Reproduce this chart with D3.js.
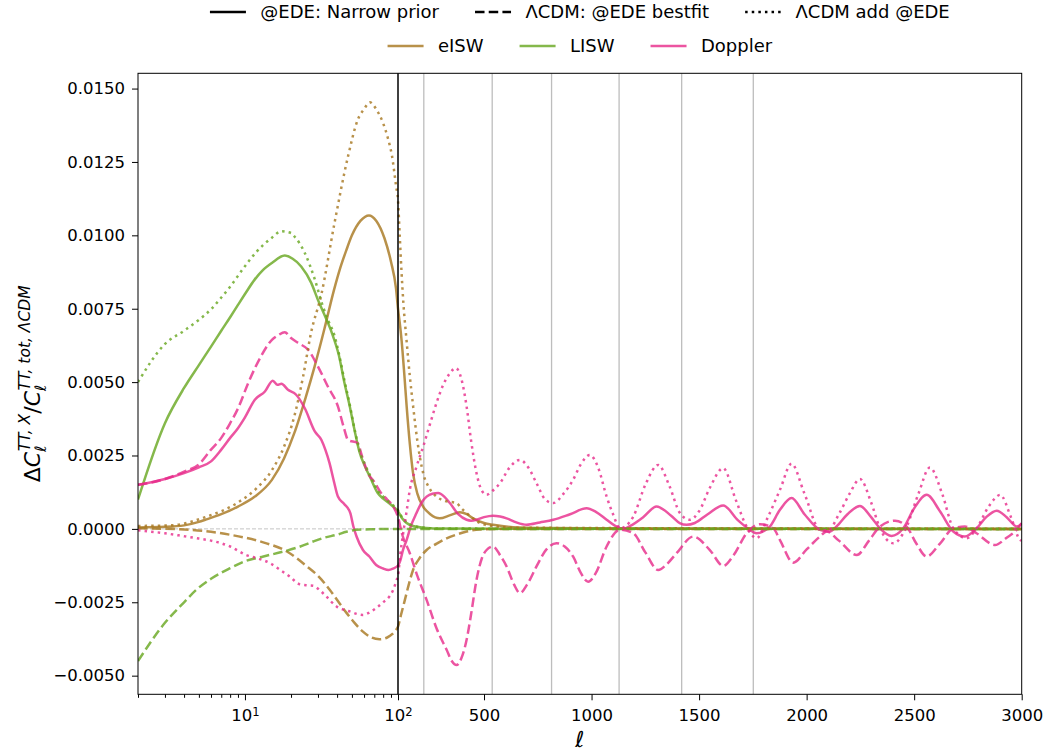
<!DOCTYPE html>
<html>
<head>
<meta charset="utf-8">
<script src="https://cdn.jsdelivr.net/npm/d3@7"></script>
<style>
  body { margin: 0; background: #fff; }
  svg text { font-family: "DejaVu Sans", sans-serif; }
</style>
</head>
<body>
<div id="chart"></div>
<script>
// ---- data (ell, value) ----
const eiswNarrow = [[2,0.00005],[3,0.00007],[4,0.00012],[5,0.00024],[5.5,0.00031],[7,0.0005],[9,0.00076],[11.6,0.0011],[15,0.00167],[18,0.0024],[21,0.00326],[25,0.0045],[28.5,0.00553],[33,0.0068],[38,0.0081],[42,0.0089],[46,0.0095],[50,0.0100],[57,0.0105],[64.6,0.01068],[72,0.0105],[81.6,0.0099],[90,0.0091],[97,0.0082],[100,0.0075],[110,0.0069],[117,0.0064],[130,0.0052],[140,0.0042],[155,0.0029],[170,0.0019],[190,0.0012],[217,0.00076],[250,0.0005],[294,0.00036],[340,0.00046],[387,0.00057],[420,0.0005],[449,0.00036],[500,0.0002],[542,0.00014],[635,0.00006],[800,0.00003],[1200,0.00001],[3000,0]];
const eiswBestfit = [[2,0.00002],[4,-0.00002],[6,-0.0001],[8,-0.0002],[13,-0.00045],[18.8,-0.00077],[25.4,-0.00128],[30,-0.0016],[35.9,-0.00208],[41,-0.0025],[46.2,-0.00287],[52,-0.0032],[59,-0.0035],[67,-0.0037],[75.7,-0.00376],[85,-0.0037],[92,-0.00358],[97,-0.00344],[100,-0.00333],[115,-0.0029],[132,-0.00242],[150,-0.0019],[170,-0.0014],[200,-0.001],[233,-0.00072],[280,-0.0005],[326,-0.00032],[370,-0.0002],[419,-0.00009],[480,-0.00002],[600,0],[3000,0]];
const eiswAdd = [[2,0.0001],[3.3,0.00012],[5.5,0.0004],[9,0.0009],[12,0.0014],[15,0.002],[18,0.0028],[21,0.00383],[24,0.0052],[27,0.00667],[31.6,0.008],[38.4,0.0104],[47.2,0.0127],[54.6,0.01394],[60,0.0143],[65.5,0.01453],[72,0.0143],[79.8,0.01383],[86,0.0133],[91.4,0.0127],[97.2,0.01167],[100,0.0112],[108,0.01],[116,0.0088],[125,0.0077],[140,0.0064],[155,0.0052],[170,0.0042],[190,0.003],[217,0.0019],[245,0.0014],[279,0.0011],[320,0.00095],[372,0.00088],[395,0.0007],[419,0.00054],[450,0.00035],[480,0.0002],[540,0.0001],[650,0.00004],[3000,0]];

const liswNarrow = [[2,0.001],[3,0.0036],[4,0.0048],[5,0.00558],[6,0.00621],[7,0.00675],[8,0.00721],[9,0.00763],[10,0.008],[11.6,0.0085],[13,0.0088],[15,0.00906],[18.2,0.00931],[20.5,0.0092],[23.3,0.00894],[27.1,0.00838],[30,0.0078],[33,0.0073],[37,0.00667],[41,0.00593],[44.7,0.00497],[48,0.00426],[52.5,0.00326],[56,0.00262],[61,0.00212],[66,0.00174],[73.7,0.00122],[80,0.00103],[90,0.00082],[100,0.0006],[120,0.00035],[140,0.0002],[170,0.0001],[233,0.00003],[300,0.00001],[3000,0]];
const liswBestfit = [[2,-0.0045],[3,-0.0032],[4,-0.0025],[4.8,-0.00208],[6,-0.0017],[8,-0.00134],[10,-0.0011],[13.2,-0.00094],[18.8,-0.00074],[23,-0.0006],[27.9,-0.00043],[33,-0.0003],[39.9,-0.0002],[46,-0.0001],[53.6,-0.00003],[70,-0.00001],[100,0],[3000,0]];
const liswAdd = [[2,0.005],[3,0.0063],[4,0.00675],[5,0.00712],[6,0.00748],[7,0.00788],[8,0.00825],[10,0.00895],[12,0.00946],[15,0.00992],[17.3,0.01014],[20,0.01008],[21,0.00997],[24.6,0.0094],[28.6,0.0085],[32.3,0.00758],[35,0.0071],[38.4,0.0066],[41,0.006],[44.7,0.00505],[48,0.00432],[52.5,0.0033],[56,0.00268],[61,0.00218],[66,0.0018],[73.7,0.0013],[80,0.0011],[90,0.00086],[100,0.00064],[120,0.00038],[140,0.00022],[170,0.00011],[233,0.00003],[300,0.00001],[3000,0]];

const dopplerNarrow = [[2,0.0015],[3,0.0017],[4,0.0019],[5,0.0021],[6,0.0023],[7,0.0027],[8,0.0031],[9,0.00343],[10,0.0038],[11.6,0.0044],[13.5,0.00468],[15.2,0.00505],[16.3,0.00491],[17.3,0.00494],[19.1,0.00474],[21.6,0.00457],[24.6,0.00411],[28.6,0.00332],[31.6,0.00303],[33.5,0.0027],[35.7,0.00224],[38,0.00165],[40.5,0.0011],[44.5,0.00085],[48.8,0.00054],[51,0.0001],[53.6,-0.00026],[59,-0.00072],[65,-0.00094],[72,-0.00123],[80,-0.00135],[86.7,-0.0014],[93,-0.00135],[100,-0.00125],[110,-0.0011],[124,-0.0007],[140,-0.00038],[160,0.0001],[186,0.00054],[210,0.0009],[233,0.0011],[260,0.0012],[287,0.00122],[315,0.0011],[341,0.00088],[380,0.0005],[419,0.00031],[440,0.00028],[465,0.00031],[500,0.0004],[542,0.00045],[575,0.00042],[605,0.00036],[650,0.00022],[698,0.00014],[760,0.00022],[822,0.00031],[900,0.0005],[977,0.0007],[1020,0.00058],[1070,0.00031],[1110,0.0001],[1147,0],[1180,0.0001],[1240,0.0004],[1302,0.00076],[1370,0.00045],[1410,0.0002],[1442,0.00014],[1480,0.0002],[1540,0.0005],[1612,0.0008],[1680,0.0003],[1736,-0.00003],[1767,-0.00015],[1800,-0.00008],[1829,0.00008],[1876,0.00065],[1930,0.00105],[1990,0.0005],[2062,-0.00003],[2108,-0.00009],[2139,0.00008],[2190,0.0005],[2248,0.00078],[2300,0.0004],[2341,0.00002],[2395,-0.00024],[2449,0.00002],[2500,0.0007],[2558,0.00116],[2620,0.0006],[2682,-0.00009],[2736,-0.00026],[2790,0.00002],[2835,0.0004],[2884,0.00062],[2930,0.0004],[2977,0.00008],[3000,0.00018]];
const dopplerBestfit = [[2,0.0015],[3,0.0017],[4,0.00195],[5,0.0022],[6,0.0027],[7,0.0031],[8,0.0036],[9,0.0041],[10.5,0.00497],[12.7,0.00587],[15,0.00644],[16.5,0.0066],[18.2,0.0067],[20,0.0065],[22.3,0.00633],[25.9,0.0061],[30,0.00553],[34.8,0.00485],[40.5,0.00417],[44,0.0035],[47.2,0.00303],[54.6,0.00292],[58,0.0025],[63.6,0.0019],[70,0.0016],[77.5,0.00122],[85,0.001],[92,0.0008],[100,0.0004],[120,-0.0002],[155,-0.00083],[190,-0.0016],[233,-0.00242],[280,-0.0034],[326,-0.00412],[350,-0.0045],[372,-0.00464],[395,-0.0044],[419,-0.00378],[440,-0.0029],[465,-0.00174],[490,-0.001],[512,-0.00072],[542,-0.0006],[575,-0.0009],[605,-0.00128],[640,-0.0019],[667,-0.00219],[700,-0.0019],[744,-0.00128],[790,-0.0007],[837,-0.00049],[875,-0.0006],[914,-0.00094],[950,-0.0015],[984,-0.0018],[1020,-0.0015],[1070,-0.0006],[1132,-0.00003],[1194,-0.00015],[1250,-0.0008],[1310,-0.0014],[1350,-0.0012],[1395,-0.00083],[1473,-0.00026],[1550,-0.00072],[1612,-0.00126],[1660,-0.0009],[1721,-0.00015],[1783,0.00016],[1845,0.00002],[1876,-0.00038],[1938,-0.00115],[2000,-0.0007],[2062,-0.00026],[2093,-0.00009],[2150,-0.0004],[2233,-0.00089],[2290,-0.0004],[2341,0.00008],[2411,0.00028],[2465,0.00008],[2510,-0.0005],[2558,-0.00094],[2620,-0.0005],[2682,0.00002],[2736,0.00008],[2790,-0.00015],[2876,-0.00055],[2930,-0.0003],[2977,-0.00003],[3000,0.0002]];
const dopplerAdd = [[2,-0.00005],[3,-0.00015],[4,-0.00025],[5,-0.00033],[6,-0.0004],[8,-0.0006],[10.2,-0.00089],[12,-0.001],[14.6,-0.00117],[17,-0.0014],[19.7,-0.00163],[22.6,-0.00188],[25,-0.00192],[27.9,-0.00194],[31,-0.0021],[34.1,-0.00231],[39.8,-0.00265],[44,-0.00275],[49,-0.00282],[54,-0.0029],[59,-0.00293],[65,-0.00285],[72,-0.0027],[80,-0.0025],[88,-0.0023],[93,-0.00208],[98,-0.00174],[100,-0.0016],[110,-0.0009],[124,-0.00015],[140,0.0006],[155,0.00133],[185,0.0021],[217,0.0028],[250,0.0036],[279,0.00429],[310,0.0049],[341,0.0053],[369,0.00548],[395,0.0051],[419,0.00417],[440,0.003],[465,0.0019],[490,0.0013],[512,0.00116],[540,0.0013],[574,0.00156],[620,0.0021],[667,0.00235],[705,0.0021],[744,0.00156],[785,0.001],[822,0.00088],[870,0.0012],[914,0.00167],[950,0.0022],[992,0.00252],[1030,0.0021],[1070,0.0011],[1100,0.0005],[1132,0.00002],[1160,0.0001],[1194,0.00042],[1250,0.0015],[1310,0.00218],[1360,0.0015],[1411,0.00054],[1457,0.00031],[1500,0.0006],[1550,0.0014],[1612,0.00207],[1670,0.001],[1721,0.00008],[1767,-0.00032],[1820,0.0004],[1876,0.00133],[1930,0.00222],[1990,0.0012],[2062,-0.00003],[2100,-0.00005],[2150,0.0005],[2200,0.0012],[2248,0.0017],[2300,0.0009],[2341,0.00002],[2403,-0.00049],[2465,0.00008],[2520,0.0012],[2573,0.00209],[2630,0.0012],[2682,0.00002],[2744,-0.00032],[2790,0.00002],[2850,0.0008],[2900,0.00116],[2950,0.0004],[2993,-0.00038],[3000,-0.0004]];

// labels, ticks, reference lines
const components = ["eISW", "LISW", "Doppler"];
const models = ["@EDE: Narrow prior", "\u039BCDM: @EDE bestfit", "\u039BCDM add @EDE"];
const yTicks = [-0.005, -0.0025, 0, 0.0025, 0.005, 0.0075, 0.01, 0.0125, 0.015];
const xLogMajor = [10, 100];
const xLogMinor = [2, 3, 4, 5, 6, 7, 8, 9, 20, 30, 40, 50, 60, 70, 80, 90];
const xLinTicks = [500, 1000, 1500, 2000, 2500, 3000];
const peakLines = [220, 538, 814, 1128, 1419, 1752];

// ---- layout ----
var width = 1050, height = 755;
var plotL = 138, plotR = 1021.7, plotT = 73.3, plotB = 694.3, xBreak = 398;
var fs = 16.5, legendFs = 18;

var svg = d3.select("#chart").append("svg").attr("width", width).attr("height", height);

// log part up to ell=100, linear afterwards
var xLog = d3.scaleLog().domain([2, 100]).range([plotL, xBreak]);
var xLin = d3.scaleLinear().domain([100, 3000]).range([xBreak, plotR]);
var x = function (l) { return l <= 100 ? xLog(l) : xLin(l); };
var y = d3.scaleLinear().domain([-0.005635, 0.01552]).range([plotB, plotT]);

var colors = ["#a6761d", "#66a61e", "#e7298a"];
var lw = 2.5;
var dashes = [null, "9.5,4.2", "2.5,4.1"];

svg.append("clipPath").attr("id", "clip").append("rect")
    .attr("x", plotL).attr("y", plotT).attr("width", plotR - plotL).attr("height", plotB - plotT);

var plot = svg.append("g").attr("clip-path", "url(#clip)");

// grey vertical lines
plot.selectAll("line.peak").data(peakLines).enter().append("line")
    .attr("class", "peak")
    .attr("x1", function (d) { return xLin(d); }).attr("x2", function (d) { return xLin(d); })
    .attr("y1", plotT).attr("y2", plotB)
    .attr("stroke", "#bdbdbd").attr("stroke-width", 1.3);

// zero line
plot.append("line").attr("x1", plotL).attr("x2", plotR).attr("y1", y(0)).attr("y2", y(0))
    .attr("stroke", "#c4c4c4").attr("stroke-width", 1).attr("stroke-dasharray", "4,2");

var line = d3.line()
    .x(function (d) { return x(d[0]); })
    .y(function (d) { return y(d[1]); })
    .curve(d3.curveMonotoneX);

// one list per model, order eISW, LISW, Doppler
var series = [
    [eiswNarrow, liswNarrow, dopplerNarrow],
    [eiswBestfit, liswBestfit, dopplerBestfit],
    [eiswAdd, liswAdd, dopplerAdd]
];
series.forEach(function (group, m) {
    group.forEach(function (data, c) {
        plot.append("path").datum(data)
            .attr("d", line)
            .attr("fill", "none")
            .attr("stroke", colors[c])
            .attr("stroke-opacity", 0.8)
            .attr("stroke-width", lw)
            .attr("stroke-dasharray", dashes[m]);
    });
});

// black line at ell = 100
svg.append("line").attr("x1", xBreak).attr("x2", xBreak).attr("y1", plotT).attr("y2", plotB)
    .attr("stroke", "#000").attr("stroke-width", 1.5);

// frame
svg.append("rect").attr("x", plotL).attr("y", plotT).attr("width", plotR - plotL).attr("height", plotB - plotT)
    .attr("fill", "none").attr("stroke", "#000").attr("stroke-width", 1);

// ---- axes ----
function styleAxis(g) {
    g.select(".domain").remove();
    g.selectAll("text").attr("font-size", fs).attr("font-family", "DejaVu Sans").attr("fill", "#000");
    g.selectAll("line").attr("stroke", "#000");
}

var gLogMajor = svg.append("g").attr("transform", "translate(0," + plotB + ")")
    .call(d3.axisBottom(xLog).tickValues(xLogMajor).tickSize(6).tickPadding(9).tickFormat(function () { return ""; }));
styleAxis(gLogMajor);
gLogMajor.selectAll(".tick text").each(function (d) {
    var t = d3.select(this);
    t.text("10");
    t.append("tspan").attr("dy", "-0.45em").attr("font-size", fs * 0.7).text(Math.round(Math.log10(d)));
});

var gLogMinor = svg.append("g").attr("transform", "translate(0," + plotB + ")")
    .call(d3.axisBottom(xLog).tickValues(xLogMinor).tickSize(3.5).tickFormat(function () { return ""; }));
styleAxis(gLogMinor);

var gLin = svg.append("g").attr("transform", "translate(0," + plotB + ")")
    .call(d3.axisBottom(xLin).tickValues(xLinTicks).tickSize(6).tickPadding(9).tickFormat(d3.format("d")));
styleAxis(gLin);

var gy = svg.append("g").attr("transform", "translate(" + plotL + ",0)")
    .call(d3.axisLeft(y).tickValues(yTicks).tickSize(6).tickPadding(7).tickFormat(d3.format(".4f")));
styleAxis(gy);

// axis labels
svg.append("text").attr("x", (plotL + plotR) / 2).attr("y", 747)
    .attr("text-anchor", "middle").attr("font-size", 22).attr("font-style", "italic").text("\u2113");

var ys = 15.5;
var yl = svg.append("text").attr("transform", "translate(40," + ((plotT + plotB) / 2) + ") rotate(-90)")
    .attr("text-anchor", "middle").attr("font-size", 22);
yl.append("tspan").text("\u0394");
yl.append("tspan").attr("font-style", "italic").text("C");
yl.append("tspan").attr("font-style", "italic").attr("font-size", ys).attr("dy", 6).text("\u2113");
yl.append("tspan").attr("font-style", "italic").attr("font-size", ys).attr("dx", -6).attr("dy", -16).text("TT, X");
yl.append("tspan").attr("dy", 10).text("/");
yl.append("tspan").attr("font-style", "italic").text("C");
yl.append("tspan").attr("font-style", "italic").attr("font-size", ys).attr("dy", 6).text("\u2113");
yl.append("tspan").attr("font-style", "italic").attr("font-size", ys).attr("dx", -6).attr("dy", -16).text("TT, tot, \u039BCDM");

// ---- legends ----
function legendRow(items, yPos) {
    var g = svg.append("g");
    var cx = 0, hl = 2 * legendFs, pad = 0.8 * legendFs, gap = 2 * legendFs;
    items.forEach(function (it) {
        g.append("line").attr("x1", cx).attr("x2", cx + hl).attr("y1", yPos).attr("y2", yPos)
            .attr("stroke", it.color).attr("stroke-opacity", it.opacity)
            .attr("stroke-width", lw).attr("stroke-dasharray", it.dash);
        var t = g.append("text").attr("x", cx + hl + pad).attr("y", yPos).attr("dy", "0.35em")
            .attr("font-size", legendFs).text(it.label);
        cx += hl + pad + t.node().getComputedTextLength() + gap;
    });
    var total = cx - gap;
    g.attr("transform", "translate(" + ((plotL + plotR) / 2 - total / 2) + ",0)");
}

legendRow(models.map(function (m, i) { return { label: m, color: "#000", opacity: 1, dash: dashes[i] }; }), 12);
legendRow(components.map(function (c, i) { return { label: c, color: colors[i], opacity: 0.8, dash: null }; }), 46);
</script>
</body>
</html>
